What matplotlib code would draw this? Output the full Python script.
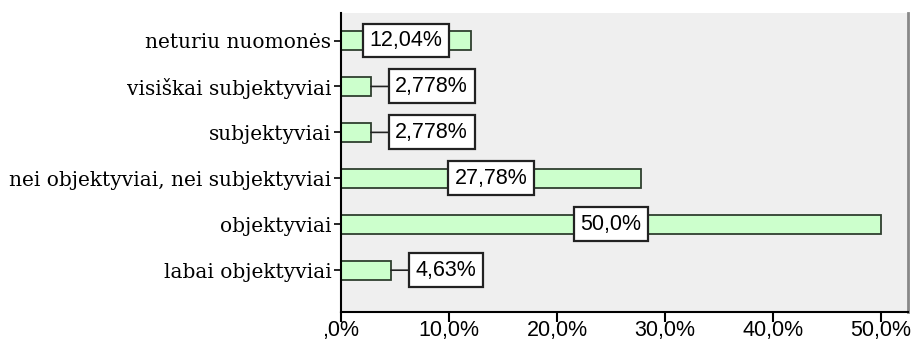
import matplotlib.pyplot as plt

# --- data ---
categories = ["labai objektyviai", "objektyviai", "nei objektyviai, nei subjektyviai",
              "subjektyviai", "visiškai subjektyviai", "neturiu nuomonės"]
percents = [4.63, 50.0, 27.78, 2.778, 2.778, 12.04]
value_labels = ["4,63%", "50,0%", "27,78%", "2,778%", "2,778%", "12,04%"]
x_ticks = [0, 10, 20, 30, 40, 50]
x_tick_labels = [",0%", "10,0%", "20,0%", "30,0%", "40,0%", "50,0%"]

fig = plt.figure(figsize=(9.13, 3.5), dpi=100)
ax = fig.add_axes([0.3735, 0.1086, 0.621, 0.8544])
ax.set_facecolor("#efefef")

y = list(range(len(categories)))
ax.barh(y, percents, height=0.42, color="#ccffcc", edgecolor="#2f3f2f", linewidth=1.3, zorder=2)

box = dict(boxstyle="square,pad=0.3", fc="white", ec="#222222", lw=1.6)
for yi, v, lab in zip(y, percents, value_labels):
    if v > 10:
        ax.text(v / 2, yi, lab, ha="center", va="center", fontsize=15.5,
                family="Liberation Sans", bbox=box, zorder=3)
    else:
        ax.annotate(lab, xy=(v, yi), xytext=(17.5, 0), textcoords="offset points",
                    ha="left", va="center", fontsize=15.5, family="Liberation Sans",
                    bbox=box, zorder=3,
                    arrowprops=dict(arrowstyle="-", color="#222222", lw=1.2,
                                    shrinkA=0, shrinkB=0))

ax.set_xlim(0, 52.5)
ax.set_ylim(-0.91, 5.6)
ax.set_xticks(x_ticks)
ax.set_xticklabels(x_tick_labels, fontsize=15.5, family="Liberation Sans")
ax.set_yticks(y)
ax.set_yticklabels(categories, fontsize=14.5, family="DejaVu Serif")
ax.tick_params(axis="x", length=7, width=1.5, pad=-1)
ax.tick_params(axis="y", length=5, width=1.2, pad=2)

ax.spines["top"].set_visible(False)
ax.spines["right"].set_color("#888888")
ax.spines["right"].set_linewidth(2)
ax.spines["left"].set_linewidth(1.5)
ax.spines["bottom"].set_linewidth(1.5)

fig.savefig("out.png", dpi=100)
